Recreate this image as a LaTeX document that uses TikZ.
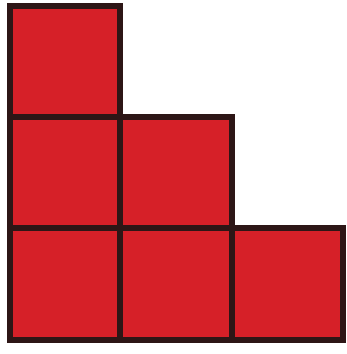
\documentclass[tikz,border=0pt]{standalone}
\definecolor{sqred}{RGB}{214,32,40}
\definecolor{sqedge}{RGB}{45,22,22}
\begin{document}
\begin{tikzpicture}[x=1pt,y=-1pt,
  cell/.style={fill=sqred,draw=sqedge,line width=6pt,line join=miter}]
\useasboundingbox (0,0) rectangle (346,354);
\fill[white] (0,0) rectangle (346,354);
% x lines: 9.5, 120, 232, 342.5 ; y lines: 5.5, 117, 228, 340
\draw[cell] (9.5,5.5) rectangle (120,117);
\draw[cell] (9.5,117) rectangle (120,228);
\draw[cell] (120,117) rectangle (232,228);
\draw[cell] (9.5,228) rectangle (120,340);
\draw[cell] (120,228) rectangle (232,340);
\draw[cell] (232,228) rectangle (342.5,340);
\end{tikzpicture}
\end{document}
